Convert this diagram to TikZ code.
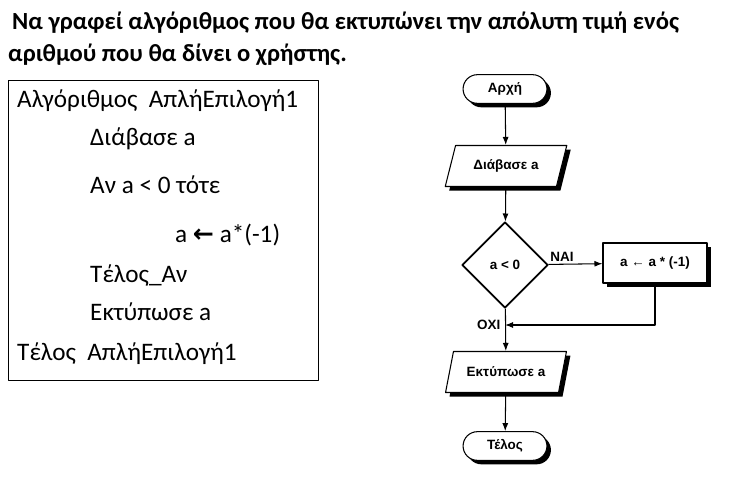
\documentclass[tikz,border=0pt]{standalone}
\usepackage{fontspec}
\setmainfont{Carlito}
\newfontfamily\chartfont{Liberation Sans}
\usetikzlibrary{shapes.geometric,shapes.misc,shadows,arrows.meta}

\tikzset{
  blackshadow/.style={drop shadow={shadow xshift=0.12cm, shadow yshift=-0.12cm, fill=black, opacity=1}},
  chart/.style={draw, fill=white, line width=0.9pt, font=\chartfont\bfseries\fontsize{11.5}{13}\selectfont},
  term/.style={chart, blackshadow, rounded rectangle, minimum width=2.75cm, minimum height=0.86cm},
  io/.style={chart, blackshadow, trapezium, trapezium left angle=70, trapezium right angle=110,
    trapezium stretches=true, minimum width=3.66cm, minimum height=1.23cm},
  test/.style={chart, diamond, line width=1.6pt, minimum width=2.58cm, minimum height=2.58cm, inner sep=0pt},
  proc/.style={chart, blackshadow, rectangle, minimum width=3.12cm, minimum height=1.2cm},
  arr/.style={->, line width=0.9pt},
  lbl/.style={font=\chartfont\bfseries\fontsize{11.5}{13}\selectfont, inner sep=1pt},
  titleline/.style={anchor=base west, inner sep=0pt, font=\bfseries\fontsize{21}{24}\selectfont},
  codeline/.style={anchor=base west, inner sep=0pt, font=\fontsize{21.5}{24}\selectfont}
}

\begin{document}
\begin{tikzpicture}[x=0.03cm, y=-0.03cm, line join=round, >={Latex[length=2.4mm,width=1.8mm]}]
	\useasboundingbox (0,0) rectangle (753,477);
	% title
	\node[titleline] (title1) at (12,29) {Να γραφεί αλγόριθμος που θα εκτυπώνει την απόλυτη τιμή ενός};
	\node[titleline] (title2) at (8,61) {αριθμού που θα δίνει ο χρήστης.};
	% pseudocode
	\node[draw, line width=0.8pt, anchor=north west, minimum width=9.3cm, minimum height=9.0cm, inner sep=0pt] (code) at (8,80) {};
	\node[codeline] (c1) at (17,107) {Αλγόριθμος\ \ ΑπλήΕπιλογή1};
	\node[codeline] (c2) at (90,145) {Διάβασε a};
	\node[codeline] (c3) at (90,193) {Αν a < 0 τότε};
	\node[codeline] (c4) at (175,242) {a {\fontspec{DejaVu Sans}\bfseries ←} a*(-1)};
	\node[codeline] (c5) at (90,282) {Τέλος\_Αν};
	\node[codeline] (c6) at (90,320) {Εκτύπωσε a};
	\node[codeline] (c7) at (17,360) {Τέλος\ \ ΑπλήΕπιλογή1};
	% flowchart
	\node[term] (start) at (505,89) {Αρχή};
	\node[io] (read) at (506,166) {Διάβασε a};
	\node[test] (cond) at (505,265) {a < 0};
	\node[proc] (neg) at (655,263) {a ← a * (-1)};
	\node[io] (print) at (506,372) {Εκτύπωσε a};
	\node[term] (stop) at (505,446) {Τέλος};
	\coordinate (join) at (505,325);
	\draw[arr] (start) -- (read);
	\draw[arr] (read) -- (cond);
	\draw[arr] (cond) -- (neg);
	\node[lbl, anchor=south west] (yes) at ([yshift=0.05cm]cond.east) {ΝΑΙ};
	\draw[arr] (neg) |- (join);
	\draw[arr] (cond) -- (print);
	\node[lbl, anchor=east] (no) at ([xshift=-0.1cm]join) {ΟΧΙ};
	\draw[arr] (print) -- (stop);
\end{tikzpicture}
\end{document}
